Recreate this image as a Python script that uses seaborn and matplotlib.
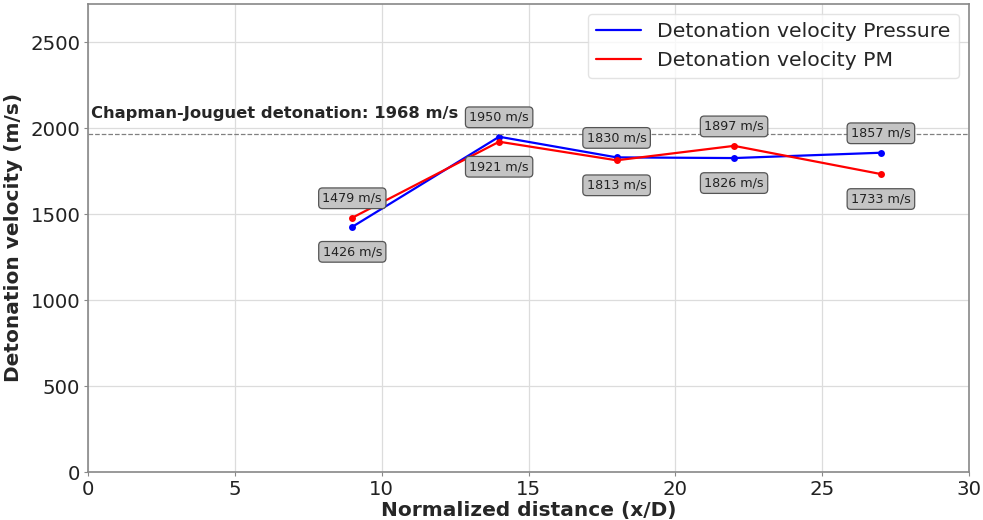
import matplotlib
matplotlib.use("Agg")
import matplotlib.pyplot as plt
import seaborn as sns
import pandas as pd

# Data
distance = [9, 14, 18, 22, 27]
vel_pressure = [1426, 1950, 1830, 1826, 1857]
vel_pm = [1479, 1921, 1813, 1897, 1733]
cj_velocity = 1968
series_names = ["Detonation velocity Pressure", "Detonation velocity PM"]
series_colors = ["blue", "red"]

df = pd.DataFrame({
    "x": distance * 2,
    "v": vel_pressure + vel_pm,
    "series": [series_names[0]] * len(distance) + [series_names[1]] * len(distance),
})

sns.set_style("white")
plt.rcParams['font.family'] = ['DejaVu Sans']

fig = plt.figure(figsize=(9.83, 5.2), dpi=100)
ax = fig.add_axes([88 / 983, 1 - 472 / 520, (969 - 88) / 983, (472 - 3.5) / 520])

sns.lineplot(data=df, x="x", y="v", hue="series", palette=series_colors,
             marker="o", markersize=5, markeredgewidth=0, linewidth=1.6,
             ax=ax, legend=True)

ax.axhline(cj_velocity, color="gray", linestyle="--", linewidth=0.9)
ax.text(0.1, cj_velocity + 75, f"Chapman-Jouguet detonation: {cj_velocity} m/s",
        fontsize=11.8, fontweight="bold", va="bottom", ha="left")

bbox = dict(boxstyle="round,pad=0.3", facecolor="#c4c4c4", edgecolor="#555555", linewidth=0.9)
for x, vp, vm in zip(distance, vel_pressure, vel_pm):
    for v, other in ((vp, vm), (vm, vp)):
        dy = 14 if v >= other else -18
        ax.annotate(f"{v} m/s", (x, v), xytext=(0, dy), textcoords="offset points",
                    ha="center", va="center", fontsize=9.2, color="#222222", bbox=bbox)

ax.set_xlim(0, 30)
ax.set_ylim(0, 2725)
ax.set_xticks([0, 5, 10, 15, 20, 25, 30])
ax.set_yticks([0, 500, 1000, 1500, 2000, 2500])
ax.tick_params(axis="both", labelsize=14.2, length=3, pad=2.5, color="#888888", direction="out",
               bottom=True, left=True, labelcolor="#222222")
ax.grid(True, color="#dcdcdc", linewidth=0.9)
for s in ax.spines.values():
    s.set_color("#888888")
    s.set_linewidth(1.2)

ax.set_xlabel("Normalized distance (x/D)", fontsize=14.5, fontweight="bold", labelpad=2)
ax.set_ylabel("Detonation velocity (m/s)", fontsize=14.5, fontweight="bold", labelpad=5)

leg = ax.legend(loc="upper right", fontsize=14.7, frameon=True, handlelength=2.2)
for h in leg.legend_handles:
    h.set_marker("")
leg.get_frame().set_edgecolor("#dddddd")
leg.get_frame().set_alpha(0.8)
leg.set_title(None)

fig.savefig("out.png", dpi=100)
